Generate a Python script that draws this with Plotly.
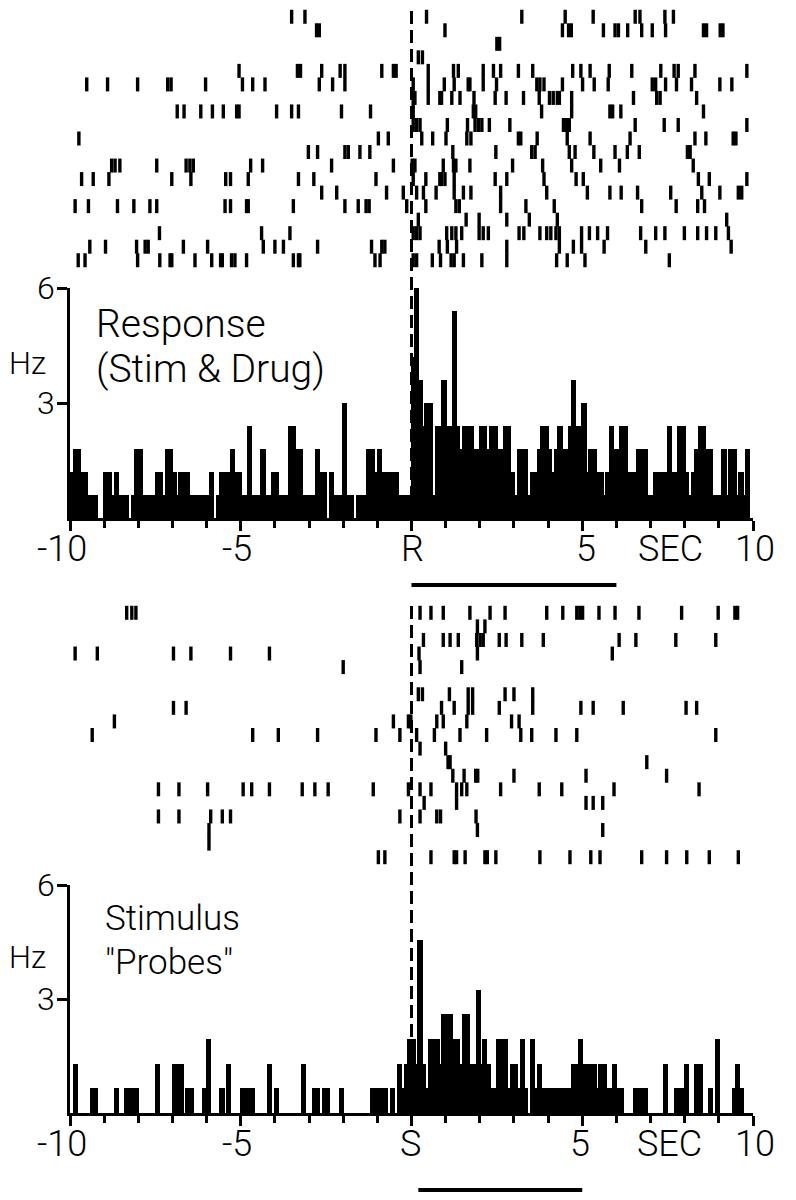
import numpy as np
import plotly.graph_objects as go

# ---------------- data ----------------
BIN_START = -10.0
BIN_WIDTH = 0.1

# Peri-event histogram, top panel (Hz), 0.1 s bins from -10 s
TOP_RATE_HZ = [
    1.2, 1.8, 1.8, 1.2, 1.2, 0.6, 0.6, 0.6, 0, 0,
    1.2, 1.2, 0.6, 1.2, 0.6, 0.6, 0.6, 0, 0.6, 1.8,
    1.8, 0.6, 0.6, 0.6, 0.6, 1.2, 1.2, 0.6, 1.8, 1.8,
    1.2, 0.6, 1.2, 1.2, 1.2, 0.6, 0.6, 0.6, 0.6, 0.6,
    0.6, 1.2, 0, 0.6, 1.2, 1.2, 1.2, 1.8, 1.2, 1.2,
    0.6, 0.6, 2.4, 0.6, 0.6, 0.6, 1.8, 0.6, 0.6, 1.2,
    1.2, 0.6, 0.6, 0.6, 2.4, 2.4, 1.8, 1.8, 0.6, 0.6,
    0.6, 0.6, 1.8, 1.2, 1.2, 0, 1.2, 0.6, 0.6, 0.6,
    3.0, 0.6, 0.6, 0, 0.6, 0.6, 0.6, 1.8, 1.8, 1.2,
    1.8, 1.2, 1.2, 1.2, 1.2, 1.2, 0.6, 0.6, 0.6, 0.6,
    4.2, 6.0, 3.6, 2.4, 3.0, 3.0, 0.6, 2.4, 2.4, 3.6,
    2.4, 2.4, 5.4, 2.4, 1.8, 2.4, 2.4, 2.4, 1.8, 1.8,
    2.4, 2.4, 1.8, 2.4, 2.4, 1.8, 1.8, 2.4, 2.4, 1.2,
    0.6, 1.8, 1.8, 1.8, 0.6, 1.2, 1.2, 1.8, 2.4, 2.4,
    1.8, 1.2, 1.8, 2.4, 1.8, 1.8, 2.4, 3.6, 2.4, 2.4,
    3.0, 1.2, 1.8, 1.8, 1.2, 1.2, 0.6, 1.2, 2.4, 1.8,
    1.8, 2.4, 2.4, 1.2, 1.2, 1.2, 1.8, 1.8, 1.8, 0.6,
    0.6, 1.2, 1.2, 1.2, 1.2, 2.4, 1.2, 1.2, 2.4, 2.4,
    1.2, 0.6, 1.2, 1.8, 2.4, 2.4, 1.8, 1.8, 0.6, 0.6,
    0.6, 1.8, 0.6, 1.8, 1.8, 0.6, 1.2, 0.6, 1.8, 0,
]

# Peri-event histogram, bottom panel (Hz)
BOTTOM_RATE_HZ = [
    0, 1.3, 0, 0, 0, 0, 0.65, 0.65, 0, 0,
    0, 0, 0, 0.65, 0, 0, 0.65, 0.65, 0.65, 0.65,
    0, 0, 0, 0, 0, 1.3, 0, 0, 0, 0,
    1.3, 1.3, 1.3, 0, 0.65, 0.65, 0, 0, 0, 0.65,
    1.95, 0, 0, 0, 0.65, 0, 1.3, 0, 0, 0,
    0.65, 0.65, 0.65, 0.65, 0, 0, 0, 0, 1.3, 0,
    0.65, 0, 0, 0, 0, 0, 0, 0, 1.3, 0,
    0, 0.65, 0.65, 0, 0.65, 0.65, 0, 0, 0, 0.65,
    0, 0, 0, 0, 0, 0, 0, 0, 0.65, 0.65,
    0.65, 0.65, 0.65, 0, 0.65, 0, 1.3, 0.65, 1.3, 1.95,
    1.95, 1.3, 4.55, 1.3, 0.65, 1.95, 1.95, 1.95, 1.3, 2.6,
    2.6, 2.6, 1.95, 1.95, 1.3, 2.6, 2.6, 1.3, 1.3, 3.25,
    1.3, 1.95, 1.3, 0.65, 0.65, 1.95, 1.95, 1.95, 0.65, 1.3,
    1.3, 0.65, 1.95, 0.65, 0, 1.95, 0.65, 1.3, 0.65, 0.65,
    0.65, 0.65, 0.65, 0.65, 0.65, 0.65, 0.65, 1.3, 1.3, 1.95,
    1.3, 1.3, 1.3, 1.3, 0.65, 1.3, 1.3, 0.65, 0.65, 1.3,
    0.65, 0.65, 0, 0, 0, 0.65, 0.65, 0.65, 0.65, 0,
    0, 0, 0, 0, 1.3, 0, 0, 0.65, 0.65, 0.65,
    1.3, 0, 0, 1.3, 1.3, 0, 0, 0.65, 0, 1.95,
    0, 0, 0, 0, 0.65, 1.3, 0.65, 0, 0, 0,
]

# Raster spike times (s), one list per trial row, top to bottom
TOP_RASTER = [
    [-3.51, -3.12, 0.44, 3.23, 4.50, 5.32, 6.55, 6.69, 7.42, 7.67],
    [-2.78, -2.70, 0.98, 4.42, 4.60, 4.68, 5.62, 5.96, 6.06, 6.33, 6.74, 7.05, 7.44, 8.55, 8.64, 9.04, 9.12],
    [2.50, 2.58],
    [0.20, 0.32],
    [-5.05, -3.34, -3.25, -2.63, -2.09, -1.95, -0.87, -0.53, -0.45, 0.49, 1.23, 1.37, 2.10, 2.40, 2.61,
     3.13, 3.55, 4.72, 4.96, 5.23, 5.79, 6.45, 7.30, 7.69, 7.81, 8.30, 9.82],
    [-9.51, -8.90, -8.02, -7.14, -7.04, -6.03, -4.95, -4.65, -4.29, -2.70, -2.31, -1.95, 0.05, 0.49, 0.96,
     1.25, 1.66, 1.71, 2.10, 2.49, 3.67, 3.76, 3.88, 4.42, 5.01, 5.35, 5.76, 7.05, 7.15, 7.44, 7.76, 8.20,
     9.03, 9.38],
    [0.05, 0.10, 0.49, 0.83, 0.88, 1.18, 1.42, 1.83, 2.45, 2.77, 3.28, 3.74, 4.04, 4.15, 4.27, 4.33, 4.69,
     6.50, 7.18, 7.28, 8.35],
    [-6.86, -6.66, -6.17, -5.83, -5.51, -5.12, -5.05, -3.95, -3.51, -3.31, -2.05, -1.20, 0.05, 1.81, 1.88,
     3.81, 4.69, 5.81, 5.89, 6.13, 8.55],
    [0.05, 0.15, 0.25, 1.05, 1.64, 1.86, 1.96, 2.06, 2.28, 2.88, 4.45, 4.54, 4.62, 6.55, 7.40, 7.81, 9.82],
    [-9.74, -0.97, -0.68, 0.30, 0.62, 1.01, 1.62, 1.74, 3.13, 3.20, 3.68, 4.56, 5.23, 6.40, 8.30, 8.62,
     9.42, 9.50],
    [-3.02, -2.75, -1.95, -1.85, -1.51, -1.22, 1.21, 2.47, 3.52, 3.62, 4.62, 4.79, 5.34, 5.96, 6.32, 6.67,
     8.08, 8.16],
    [-8.78, -8.68, -8.54, -7.46, -6.60, -6.49, -6.39, -4.71, -4.36, -2.34, -0.53, 0.02, 0.10, 0.93, 1.23,
     1.30, 1.71, 2.96, 3.84, 4.69, 5.54, 6.09, 8.25],
    [-9.66, -9.32, -8.86, -7.02, -6.46, -5.44, -5.30, -4.78, -3.31, -2.86, -1.04, 0.05, 0.42, 0.83, 0.88,
     0.98, 1.25, 2.45, 2.79, 3.88, 4.82, 5.03, 8.40, 8.72, 9.82],
    [-2.63, -2.19, -0.73, -0.24, 0.15, 0.35, 0.72, 1.25, 1.52, 1.74, 2.61, 3.96, 5.15, 5.81, 6.14, 6.62,
     7.59, 8.50, 9.03, 9.57, 9.67],
    [-9.85, -9.46, -8.61, -8.13, -7.66, -7.46, -5.46, -5.30, -4.83, -4.78, -3.46, -1.95, -1.56, -1.33,
     -1.24, -0.14, 0.42, 1.30, 1.40, 2.61, 3.35, 4.18, 6.74, 7.75, 8.38, 8.58],
    [0.20, 1.60, 1.98, 2.79, 3.45, 4.27, 9.23],
    [-7.38, -4.39, -3.56, 0.05, 0.15, 0.25, 1.03, 1.18, 1.30, 1.47, 1.98, 2.10, 2.25, 3.15, 3.29, 3.76,
     3.96, 4.08, 4.23, 4.33, 4.98, 5.21, 5.45, 5.74, 6.71, 7.15, 7.42, 7.99, 8.38, 8.64, 8.91, 9.28],
    [-9.42, -8.96, -8.05, -7.80, -7.71, -6.68, -5.97, -4.34, -4.00, -3.75, -2.75, -1.17, -0.87, -0.78,
     0.81, 1.05, 1.32, 2.79, 4.33, 4.74, 4.98, 5.64, 6.86, 9.36],
    [-9.76, -9.56, -8.02, -7.37, -7.07, -7.02, -6.34, -5.85, -5.59, -5.54, -5.27, -5.17, -4.83, -3.46,
     -3.31, -3.27, -1.07, -0.92, 0.05, 0.15, 0.61, 0.85, 1.16, 1.25, 1.52, 2.06, 2.79, 4.25, 4.56, 5.08,
     7.55],
]

BOTTOM_RASTER = [
    [-8.34, -8.19, -8.07, 0.25, 0.57, 0.93, 1.71, 2.30, 2.74, 3.96, 4.43, 4.84, 4.93, 5.01, 5.49, 5.96,
     6.66, 7.91, 8.98, 9.47, 9.55],
    [1.93, 2.15],
    [0.35, 0.93, 1.13, 1.37, 1.91, 2.01, 2.10, 2.57, 2.77, 3.23, 3.86, 6.08, 6.57, 7.74, 8.91],
    [-9.85, -9.20, -6.97, -6.46, -5.30, -4.16, 0.22, 1.93, 5.88],
    [-2.00, 0.25, 1.47],
    [],
    [0.20, 0.32, 1.11, 1.66, 1.79, 2.74, 3.00, 3.55],
    [-6.97, -6.60, 0.88, 1.25, 1.66, 1.79, 2.57, 3.55, 4.96, 5.32, 6.20, 8.04, 8.35],
    [-8.70, -0.53, -0.09, -0.02, 0.74, 0.93, 1.62, 2.93, 3.15],
    [-9.35, -4.65, -3.90, -2.75, -1.04, -0.34, 0.15, 0.67, 1.42, 2.20, 3.20, 3.52, 4.23, 4.84, 8.91],
    [0.25, 1.00],
    [1.07, 1.13, 6.89],
    [1.21, 1.54, 1.88, 1.94, 3.00, 5.11, 7.47],
    [-7.41, -6.81, -5.97, -4.93, -4.68, -4.16, -3.20, -2.83, -2.44, -1.12, -0.09, 0.25, 0.57, 1.32, 1.47,
     1.62, 2.61, 3.74, 4.40, 5.93, 8.42],
    [0.37, 1.32, 5.11, 5.32, 5.60],
    [-7.41, -6.81, -5.88, -5.54, -5.30, -0.34, 0.25, 0.74, 0.85, 1.89],
    [-5.93, 1.93, 5.60],
    [-5.93],
    [-0.97, -0.78, 0.57, 1.25, 1.32, 1.57, 2.15, 2.22, 2.47, 3.76, 4.64, 5.25, 5.52, 6.74, 7.47, 8.06,
     8.72, 9.57],
]

MAJOR_TICKS = [-10, -5, 0, 5, 10]
MINOR_TICKS = list(range(-10, 11))
Y_TICKS = [3, 6]
# tick label text and the time (s) under which each label is centred
TOP_LABELS = ["-10", "-5", "R", "5", "SEC", "10"]
TOP_LABEL_X = [-10.23, -5.11, 0.02, 5.12, 7.57, 10.06]
BOTTOM_LABELS = ["-10", "-5", "S", "5", "SEC", "10"]
BOTTOM_LABEL_X = [-10.23, -5.11, -0.04, 4.92, 7.55, 10.06]
Y_LABELS = ["3", "6"]
TOP_STIM_BAR = [0, 6.0]
BOTTOM_STIM_BAR = [0.2, 5.0]

# ---------------- figure ----------------
W, H = 796, 1200
OFF = 8          # page body margin of the browser
FONT = "Roboto"
FW = 300
FS = 36
BLACK = "black"
X_RANGE = [-10, 10]


def fy(pix):
    """reference pixel row -> paper y"""
    return 1 - (pix - OFF) / H


def fx(pix):
    """reference pixel column -> paper x"""
    return (pix - OFF) / W


XDOM = [fx(70), fx(753)]


def x_to_paper(v):
    """same linear mapping as the x axes (range X_RANGE over domain XDOM)"""
    return XDOM[0] + (v - X_RANGE[0]) / (X_RANGE[1] - X_RANGE[0]) * (XDOM[1] - XDOM[0])


centers = BIN_START + BIN_WIDTH * (np.arange(len(TOP_RATE_HZ)) + 0.5)

fig = go.Figure()


def raster_xy(rows):
    xs, ys = [], []
    for i, r in enumerate(rows):
        xs.extend(r)
        ys.extend([i] * len(r))
    return xs, ys


tx, ty = raster_xy(TOP_RASTER)
bx, by = raster_xy(BOTTOM_RASTER)

tick_marker = dict(symbol="line-ns", size=10, color=BLACK, line=dict(width=3.4, color=BLACK))

fig.add_trace(go.Scatter(x=tx, y=ty, mode="markers", marker=tick_marker, xaxis="x", yaxis="y3",
                         showlegend=False, hoverinfo="skip", cliponaxis=False))
fig.add_trace(go.Scatter(x=bx, y=by, mode="markers", marker=tick_marker, xaxis="x2", yaxis="y4",
                         showlegend=False, hoverinfo="skip", cliponaxis=False))

fig.add_trace(go.Bar(x=centers, y=TOP_RATE_HZ, width=0.15, marker=dict(color=BLACK, line=dict(width=0)),
                     xaxis="x", yaxis="y", showlegend=False))
fig.add_trace(go.Bar(x=centers, y=BOTTOM_RATE_HZ, width=0.15, marker=dict(color=BLACK, line=dict(width=0)),
                     xaxis="x2", yaxis="y2", showlegend=False))

xcommon = dict(range=X_RANGE, showline=True, linewidth=3, linecolor=BLACK, ticks="outside",
               tickvals=MAJOR_TICKS, ticklen=10, tickwidth=2.5, tickcolor=BLACK, showticklabels=False,
               minor=dict(tickvals=MINOR_TICKS, ticks="outside", ticklen=7, tickwidth=2.5, tickcolor=BLACK),
               showgrid=False, zeroline=False, fixedrange=True, domain=XDOM, automargin=False)
ycommon = dict(range=[0, 6], showline=True, linewidth=3, linecolor=BLACK, ticks="outside",
               tickvals=Y_TICKS, ticklen=10, tickwidth=2.5, tickcolor=BLACK, showticklabels=False,
               showgrid=False, zeroline=False, automargin=False)

fig.update_layout(
    width=W, height=H,
    margin=dict(l=0, r=0, t=0, b=0, pad=0, autoexpand=False),
    paper_bgcolor="white", plot_bgcolor="rgba(0,0,0,0)",
    bargap=0, barmode="overlay", showlegend=False,
    xaxis=dict(**xcommon, anchor="y"),
    xaxis2=dict(**xcommon, anchor="y2"),
    yaxis=dict(**ycommon, domain=[fy(518), fy(288)], anchor="x"),
    yaxis2=dict(**ycommon, domain=[fy(1113), fy(885)], anchor="x2"),
    yaxis3=dict(domain=[fy(267), fy(10)], range=[18.5, -0.5], visible=False, anchor="x", automargin=False),
    yaxis4=dict(domain=[fy(864), fy(606)], range=[18.5, -0.5], visible=False, anchor="x2", automargin=False),
)

dash = dict(color=BLACK, width=3, dash="13px,6px")
fig.add_shape(type="line", xref="x", yref="paper", x0=0, x1=0, y0=fy(518), y1=fy(9), line=dash, layer="below")
fig.add_shape(type="line", xref="x2", yref="paper", x0=0, x1=0, y0=fy(1113), y1=fy(600), line=dash,
              layer="below")

# stimulus duration bars
fig.add_shape(type="line", xref="x", yref="paper", x0=TOP_STIM_BAR[0], x1=TOP_STIM_BAR[1],
              y0=fy(585), y1=fy(585), line=dict(color=BLACK, width=4))
fig.add_shape(type="line", xref="x2", yref="paper", x0=BOTTOM_STIM_BAR[0], x1=BOTTOM_STIM_BAR[1],
              y0=fy(1190), y1=fy(1190), line=dict(color=BLACK, width=4))


def ann(text, x, y, size=FS, yref="paper", xanchor="left"):
    fig.add_annotation(text=text, x=x, y=y, xref="paper", yref=yref, xanchor=xanchor, yanchor="middle",
                       showarrow=False, borderpad=0,
                       font=dict(family=FONT, size=size, color=BLACK, weight=FW))


# x tick labels
for lab, xv in zip(TOP_LABELS, TOP_LABEL_X):
    ann(lab, x_to_paper(xv), fy(549), xanchor="center")
for lab, xv in zip(BOTTOM_LABELS, BOTTOM_LABEL_X):
    ann(lab, x_to_paper(xv), fy(1144), xanchor="center")

# y tick labels
for lab, yv in zip(Y_LABELS, Y_TICKS):
    ann(lab, fx(56), yv, size=32, yref="y", xanchor="right")
    ann(lab, fx(56), yv, size=32, yref="y2", xanchor="right")

ann("Hz", fx(8), fy(364), size=31)
ann("Hz", fx(8), fy(957), size=31)

ann("Response", fx(95), fy(324), size=39)
ann("(Stim &amp; Drug)", fx(95), fy(369), size=39)
ann("Stimulus", fx(104), fy(918), size=35)
ann("\"Probes\"", fx(104), fy(962), size=35)

fig.write_html("out.html")
